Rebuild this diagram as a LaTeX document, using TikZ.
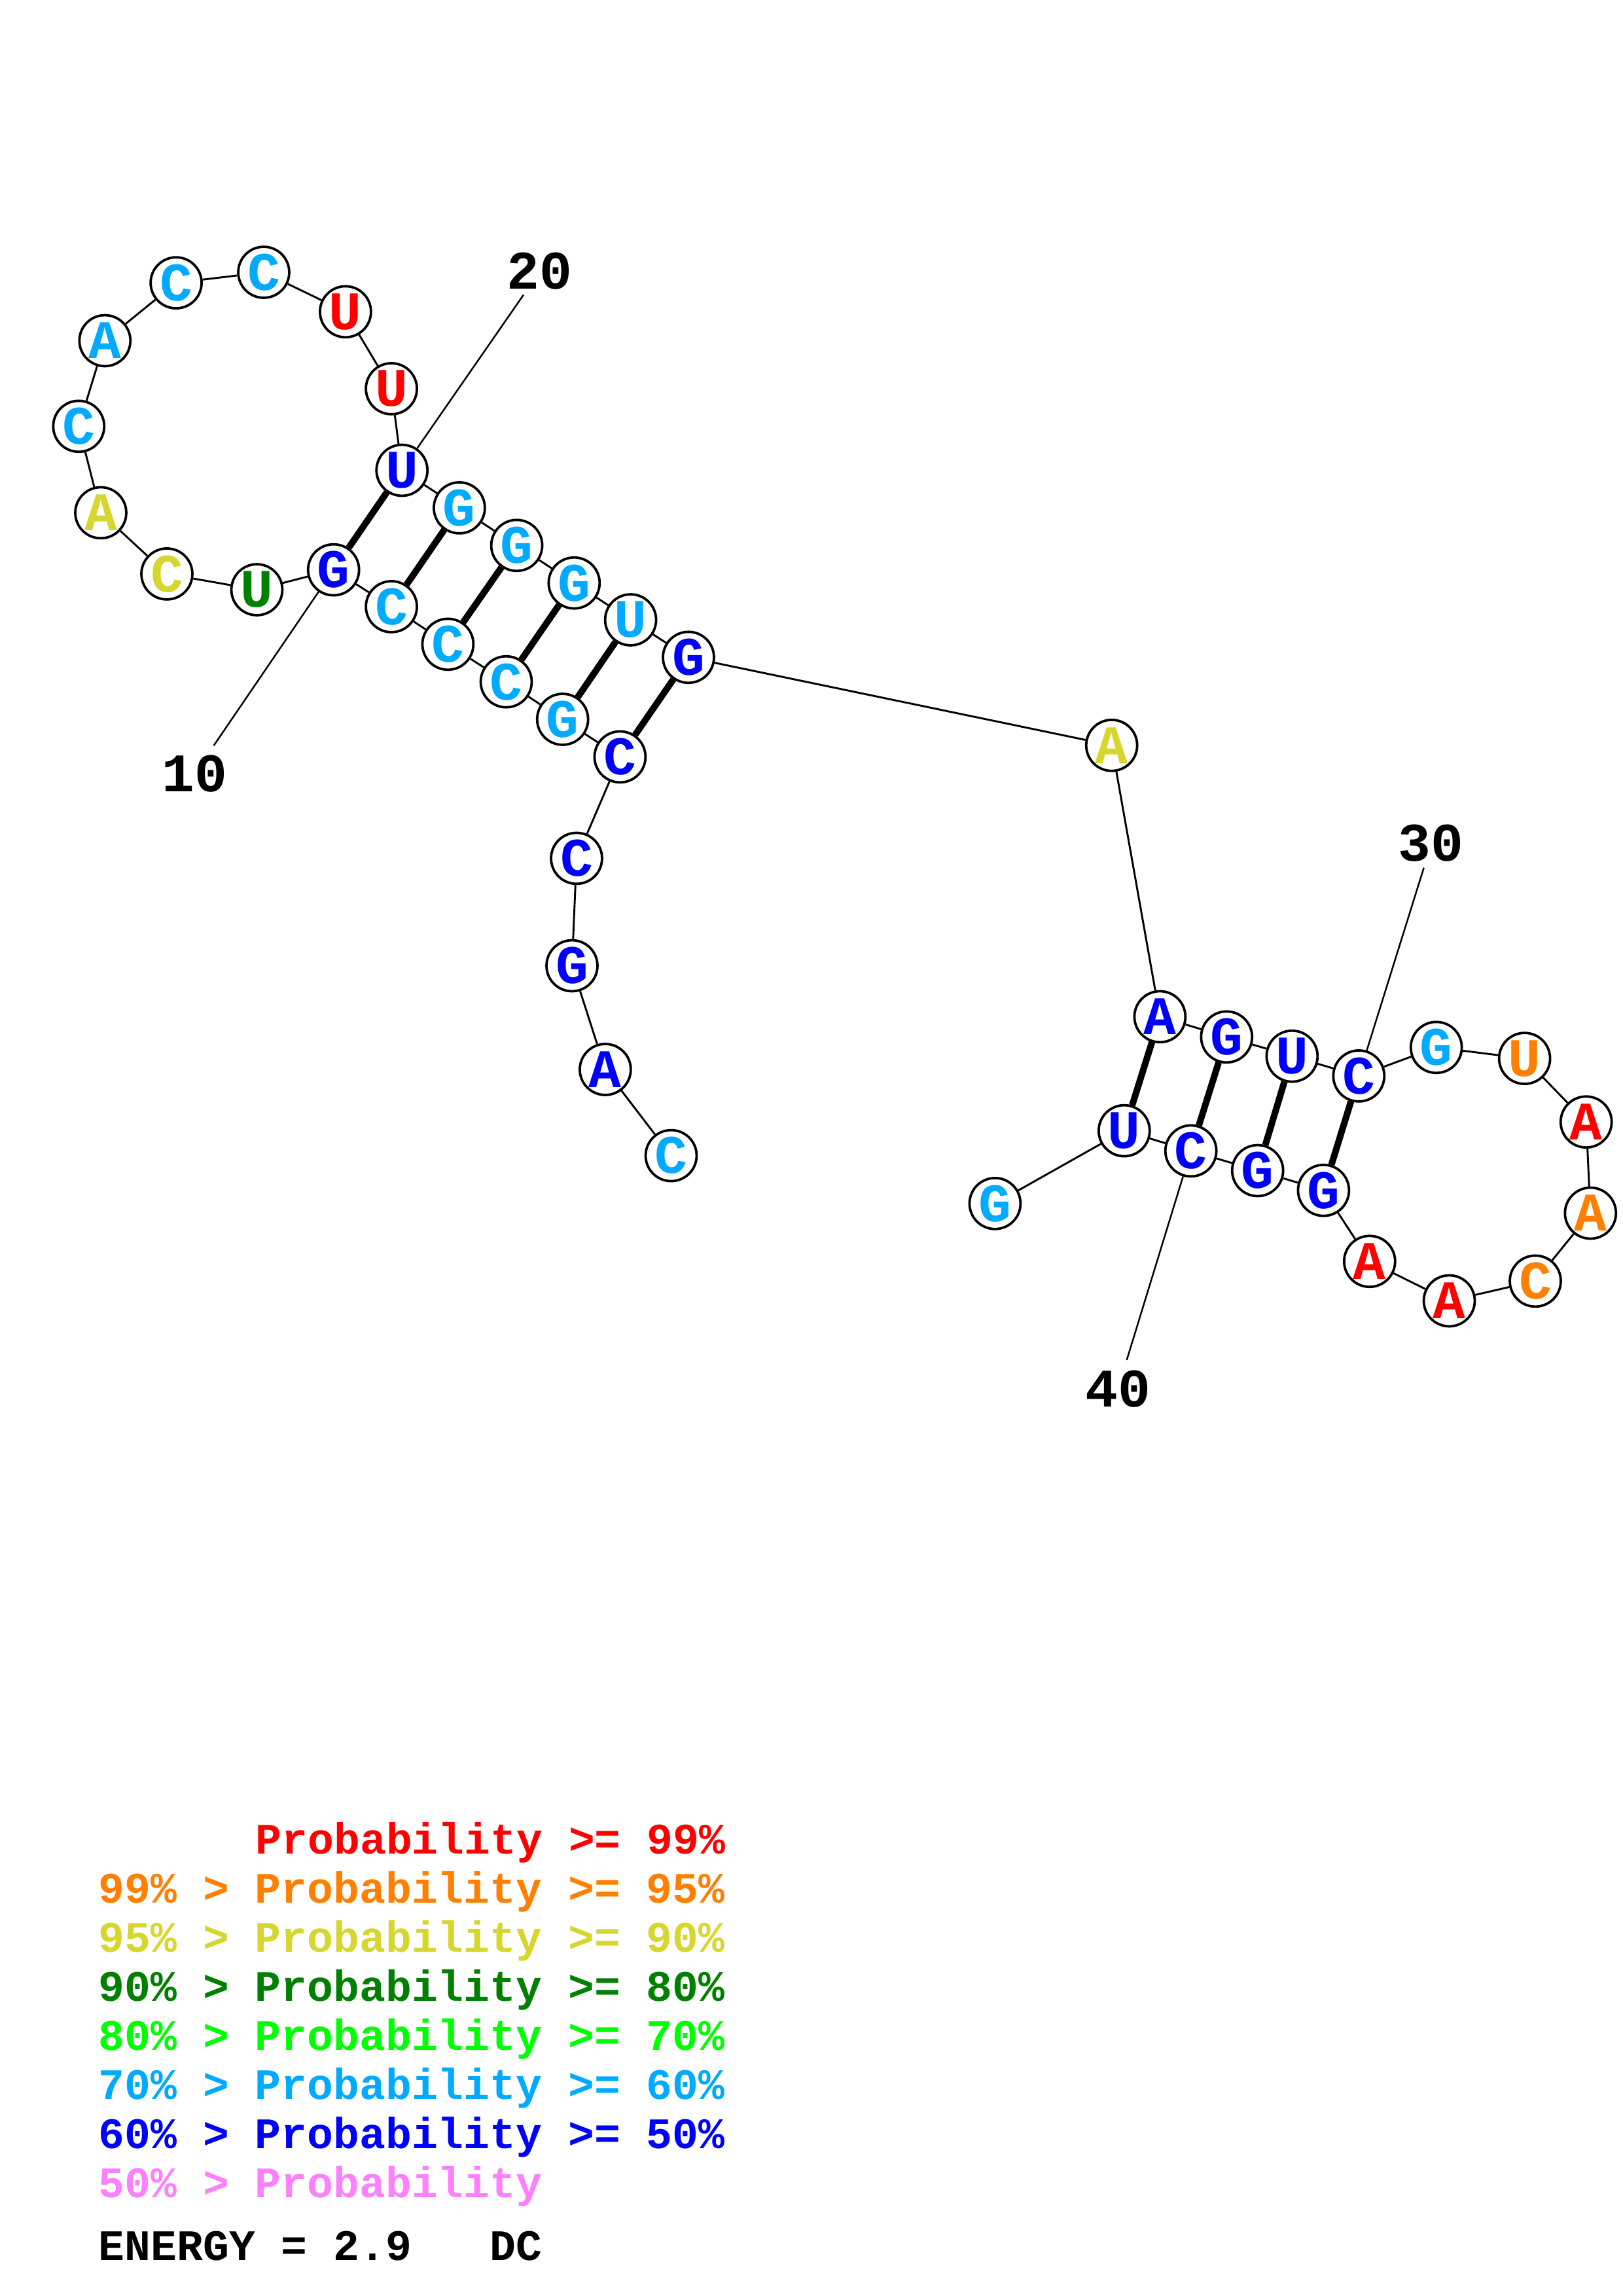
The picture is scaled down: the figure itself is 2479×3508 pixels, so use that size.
\documentclass[tikz,border=0pt]{standalone}
\usepackage{fontspec}
\setmonofont{Liberation Mono}
\definecolor{c99}{RGB}{255,0,0}
\definecolor{c95}{RGB}{255,128,0}
\definecolor{c90}{RGB}{214,214,46}
\definecolor{c80}{RGB}{0,128,0}
\definecolor{c70}{RGB}{0,255,0}
\definecolor{c60}{RGB}{0,170,255}
\definecolor{c50}{RGB}{0,0,255}
\definecolor{c00}{RGB}{255,128,255}

\begin{document}
\begin{tikzpicture}[x=0.24bp, y=-0.24bp,
        nuc/.style = {shape=circle, draw, line width=0.9bp, fill=white,
            inner sep=0pt, minimum size=18.7bp,
            font=\fontsize{20}{24}\ttfamily\bfseries},
        bb/.style = {line width=0.7bp},
        bpair/.style = {line width=2.4bp},
        numline/.style = {line width=0.6bp},
        num/.style = {inner sep=0pt, font=\fontsize{20}{24}\ttfamily\bfseries},
        key/.style = {anchor=base west, inner sep=0pt,
            font=\fontsize{16}{19}\ttfamily\bfseries}]
    \useasboundingbox (0,0) rectangle (2479,3508);

    \node[nuc, text=c60] (n1) at (1025.5,1765.6) {C};
    \node[nuc, text=c50] (n2) at (924.9,1634) {A};
    \node[nuc, text=c50] (n3) at (874,1475.5) {G};
    \node[nuc, text=c50] (n4) at (881,1311.4) {C};
    \node[nuc, text=c50] (n5) at (947.4,1156.4) {C};
    \node[nuc, text=c60] (n6) at (859.7,1099) {G};
    \node[nuc, text=c60] (n7) at (773.5,1041.7) {C};
    \node[nuc, text=c60] (n8) at (684.4,984.3) {C};
    \node[nuc, text=c60] (n9) at (598.1,926.9) {C};
    \node[nuc, text=c50] (n10) at (509.7,870.6) {G};
    \node[nuc, text=c80] (n11) at (392.5,901) {U};
    \node[nuc, text=c90] (n12) at (255,876.9) {C};
    \node[nuc, text=c90] (n13) at (154,783.4) {A};
    \node[nuc, text=c60] (n14) at (120.3,651.3) {C};
    \node[nuc, text=c60] (n15) at (160.3,520.5) {A};
    \node[nuc, text=c60] (n16) at (269.1,432.1) {C};
    \node[nuc, text=c60] (n17) at (403,416) {C};
    \node[nuc, text=c99] (n18) at (527.9,476.3) {U};
    \node[nuc, text=c99] (n19) at (598.1,593.9) {U};
    \node[nuc, text=c50] (n20) at (614.2,718.5) {U};
    \node[nuc, text=c60] (n21) at (701.9,775.9) {G};
    \node[nuc, text=c60] (n22) at (789.6,833.3) {G};
    \node[nuc, text=c60] (n23) at (877.3,890.7) {G};
    \node[nuc, text=c60] (n24) at (963.6,947) {U};
    \node[nuc, text=c50] (n25) at (1052,1004.3) {G};
    \node[nuc, text=c90] (n26) at (1698.7,1138.8) {A};
    \node[nuc, text=c50] (n27) at (1772.4,1553.4) {A};
    \node[nuc, text=c50] (n28) at (1874.3,1584.3) {G};
    \node[nuc, text=c50] (n29) at (1974.3,1613.7) {U};
    \node[nuc, text=c50] (n30) at (2076.3,1643.9) {C};
    \node[nuc, text=c60] (n31) at (2194.7,1600.3) {G};
    \node[nuc, text=c95] (n32) at (2329.6,1617.1) {U};
    \node[nuc, text=c99] (n33) at (2423.7,1714.2) {A};
    \node[nuc, text=c95] (n34) at (2430.3,1853.5) {A};
    \node[nuc, text=c95] (n35) at (2346,1957.3) {C};
    \node[nuc, text=c99] (n36) at (2214.5,1987.5) {A};
    \node[nuc, text=c99] (n37) at (2092.8,1927.2) {A};
    \node[nuc, text=c50] (n38) at (2022.4,1818.7) {G};
    \node[nuc, text=c50] (n39) at (1921.7,1788.5) {G};
    \node[nuc, text=c50] (n40) at (1819.7,1758.4) {C};
    \node[nuc, text=c50] (n41) at (1717.8,1727.6) {U};
    \node[nuc, text=c60] (n42) at (1520.4,1838.8) {G};

    \draw[bb] (n1) -- (n2) -- (n3) -- (n4) -- (n5) -- (n6) -- (n7) -- (n8)
        -- (n9) -- (n10) -- (n11) -- (n12) -- (n13) -- (n14) -- (n15)
        -- (n16) -- (n17) -- (n18) -- (n19) -- (n20) -- (n21) -- (n22)
        -- (n23) -- (n24) -- (n25) -- (n26) -- (n27) -- (n28) -- (n29)
        -- (n30) -- (n31) -- (n32) -- (n33) -- (n34) -- (n35) -- (n36)
        -- (n37) -- (n38) -- (n39) -- (n40) -- (n41) -- (n42);

    \draw[bpair] (n5) -- (n25);
    \draw[bpair] (n6) -- (n24);
    \draw[bpair] (n7) -- (n23);
    \draw[bpair] (n8) -- (n22);
    \draw[bpair] (n9) -- (n21);
    \draw[bpair] (n10) -- (n20);
    \draw[bpair] (n27) -- (n41);
    \draw[bpair] (n28) -- (n40);
    \draw[bpair] (n29) -- (n39);
    \draw[bpair] (n30) -- (n38);

    \coordinate (e10) at (326.6,1139.2);
    \coordinate (e20) at (800,450.4);
    \coordinate (e30) at (2175.7,1325.7);
    \coordinate (e40) at (1721.7,2077.9);
    \node[num] (l10) at (297.8,1182.3) {10};
    \node[num] (l20) at (824.7,414.3) {20};
    \node[num] (l30) at (2186,1288.2) {30};
    \node[num] (l40) at (1708.6,2122) {40};
    \draw[numline] (n10) -- (e10);
    \draw[numline] (n20) -- (e20);
    \draw[numline] (n30) -- (e30);
    \draw[numline] (n40) -- (e40);

    \node[key, text=c99] (k99) at (390,2832) {Probability >= 99\%};
    \node[key, text=c95] (k95) at (150,2907) {99\% > Probability >= 95\%};
    \node[key, text=c90] (k90) at (150,2982) {95\% > Probability >= 90\%};
    \node[key, text=c80] (k80) at (150,3057) {90\% > Probability >= 80\%};
    \node[key, text=c70] (k70) at (150,3132) {80\% > Probability >= 70\%};
    \node[key, text=c60] (k60) at (150,3207) {70\% > Probability >= 60\%};
    \node[key, text=c50] (k50) at (150,3282) {60\% > Probability >= 50\%};
    \node[key, text=c00] (k00) at (150,3357) {50\% > Probability};
    \node[key] (energy) at (150,3453) {ENERGY = 2.9~~~DC};
\end{tikzpicture}
\end{document}
